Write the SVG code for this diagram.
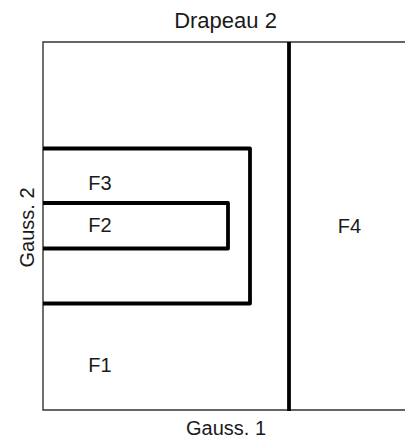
<svg xmlns="http://www.w3.org/2000/svg" width="405" height="441" viewBox="0 0 405 441">
  <style>
    .lbl { font-family: "Liberation Sans", Arial, sans-serif; font-size: 20px; fill: #1a1a1a; }
    .title { font-size: 22px; }
    .frame { fill: none; stroke: #333333; stroke-width: 1.4; }
    .bound { fill: none; stroke: #000000; stroke-width: 3.8; stroke-linejoin: round; }
  </style>
  <rect width="405" height="441" fill="#ffffff"/>

  <!-- plot frame (open on the right) -->
  <path class="frame" d="M405,42 H43 V410 H405"/>

  <!-- region boundaries -->
  <g id="connectors">
    <path id="b-f4" class="bound" d="M289,42 V411"/>
    <path id="b-f3" class="bound" d="M43,148.5 H250 V303.5 H43"/>
    <path id="b-f2" class="bound" d="M43,203 H228 V248.5 H43"/>
  </g>

  <g id="F1"><text class="lbl" x="100" y="372" text-anchor="middle">F1</text></g>
  <g id="F2"><text class="lbl" x="100" y="232" text-anchor="middle">F2</text></g>
  <g id="F3"><text class="lbl" x="100" y="190" text-anchor="middle">F3</text></g>
  <g id="F4"><text class="lbl" x="349.5" y="233" text-anchor="middle">F4</text></g>

  <!-- titles -->
  <text class="lbl title" x="225.5" y="28" text-anchor="middle">Drapeau 2</text>
  <text class="lbl" x="226" y="435" text-anchor="middle">Gauss. 1</text>
  <text class="lbl" transform="translate(33.5,227.5) rotate(-90)" text-anchor="middle">Gauss. 2</text>
</svg>
